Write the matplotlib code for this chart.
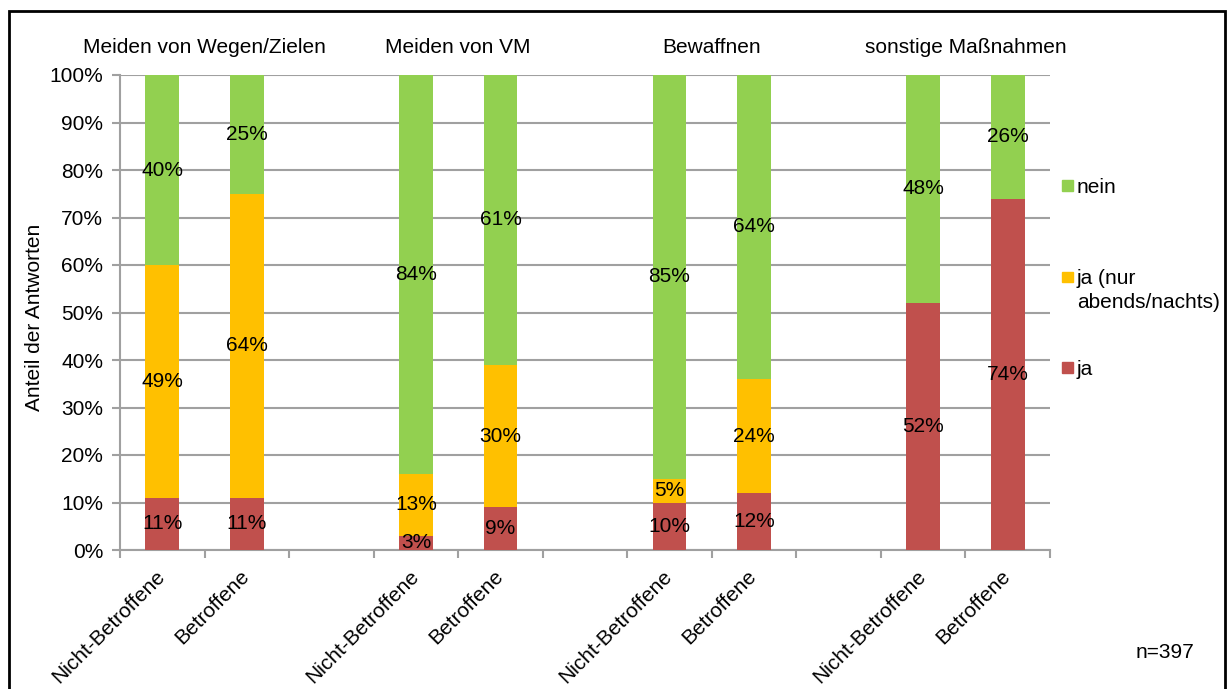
import numpy as np
import matplotlib.pyplot as plt
import matplotlib.transforms as mtransforms
from matplotlib.patches import Rectangle

plt.rcParams['font.family'] = ['Liberation Sans', 'DejaVu Sans']

groups = ['Meiden von Wegen/Zielen', 'Meiden von VM', 'Bewaffnen', 'sonstige Maßnahmen']
bar_labels = ['Nicht-Betroffene', 'Betroffene'] * 4
ja = [11, 11, 3, 9, 10, 12, 52, 74]
ja_nachts = [49, 64, 13, 30, 5, 24, 0, 0]
nein = [40, 25, 84, 61, 85, 64, 48, 26]

series = [('ja', ja, '#C0504D'),
          ('ja (nur\nabends/nachts)', ja_nachts, '#FFC000'),
          ('nein', nein, '#92D050')]

# two bars per group, one empty slot between groups
pos = np.array([0, 1, 3, 4, 6, 7, 9, 10])
fs = 15

fig = plt.figure(figsize=(12.27, 6.89), dpi=100)
W, H = 1227, 689
ax = fig.add_axes([120 / W, 1 - 550 / H, 930 / W, 475 / H])

bottom = np.zeros(len(pos))
for name, vals, col in series:
    vals = np.array(vals, dtype=float)
    ax.bar(pos, vals, bottom=bottom, width=0.4, color=col, zorder=3)
    for x, v, b0 in zip(pos, vals, bottom):
        if v > 0:
            ax.text(x, b0 + v / 2, f'{v:.0f}%', ha='center', va='center',
                    fontsize=fs, color='black', zorder=4)
    bottom += vals

ax.set_xlim(-0.5, 10.5)
ax.set_ylim(0, 100)
ax.set_yticks(np.arange(0, 101, 10))
ax.set_yticklabels([f'{v}%' for v in range(0, 101, 10)], fontsize=fs)
ax.yaxis.grid(True, color='#A0A0A0', linewidth=1.5, zorder=0)
ax.tick_params(axis='y', length=6, width=1.5, color='#A0A0A0', pad=6)

ax.set_xticks(pos)
ax.set_xticklabels(bar_labels, rotation=45, ha='right', rotation_mode='anchor', fontsize=fs)
ax.tick_params(axis='x', which='major', length=0, pad=12)
shift = mtransforms.ScaledTranslation(-0.07, 0, fig.dpi_scale_trans)
for lbl in ax.get_xticklabels():
    lbl.set_transform(lbl.get_transform() + shift)
ax.set_xticks(np.arange(-0.5, 11, 1), minor=True)
ax.tick_params(axis='x', which='minor', length=6, width=1.5, color='#A0A0A0')

for s in ['top', 'right']:
    ax.spines[s].set_visible(False)
for s in ['left', 'bottom']:
    ax.spines[s].set_color('#A0A0A0')
    ax.spines[s].set_linewidth(1.5)

ax.set_ylabel('Anteil der Antworten', fontsize=fs)
ax.yaxis.set_label_coords((44 - 120) / 930, 0.49)

for i, g in enumerate(groups):
    ax.text((pos[2 * i] + pos[2 * i + 1]) / 2, 103.8, g, ha='center', va='bottom', fontsize=fs)

# legend on the right, drawn entry by entry
sq = 11
legend_rows = [('nein', '#92D050', 186, ['nein']),
               ('ja_nachts', '#FFC000', 277, ['ja (nur', 'abends/nachts)']),
               ('ja', '#C0504D', 367, ['ja'])]
for _, col, yc, lines in legend_rows:
    fig.patches.append(Rectangle((1062 / W, 1 - (yc + sq / 2) / H), sq / W, sq / H,
                                 transform=fig.transFigure, color=col))
    for k, line in enumerate(lines):
        fig.text(1077 / W, 1 - (yc + 2 + 24 * k) / H, line, ha='left', va='center', fontsize=fs)

fig.text(1194 / W, 1 - 653 / H, 'n=397', ha='right', va='center', fontsize=fs)

fig.patches.append(Rectangle((9 / W, -0.05), 1216 / W, 1.05 - 11 / H,
                             transform=fig.transFigure, fill=False,
                             edgecolor='black', linewidth=2))

fig.savefig('out.png', dpi=100)
